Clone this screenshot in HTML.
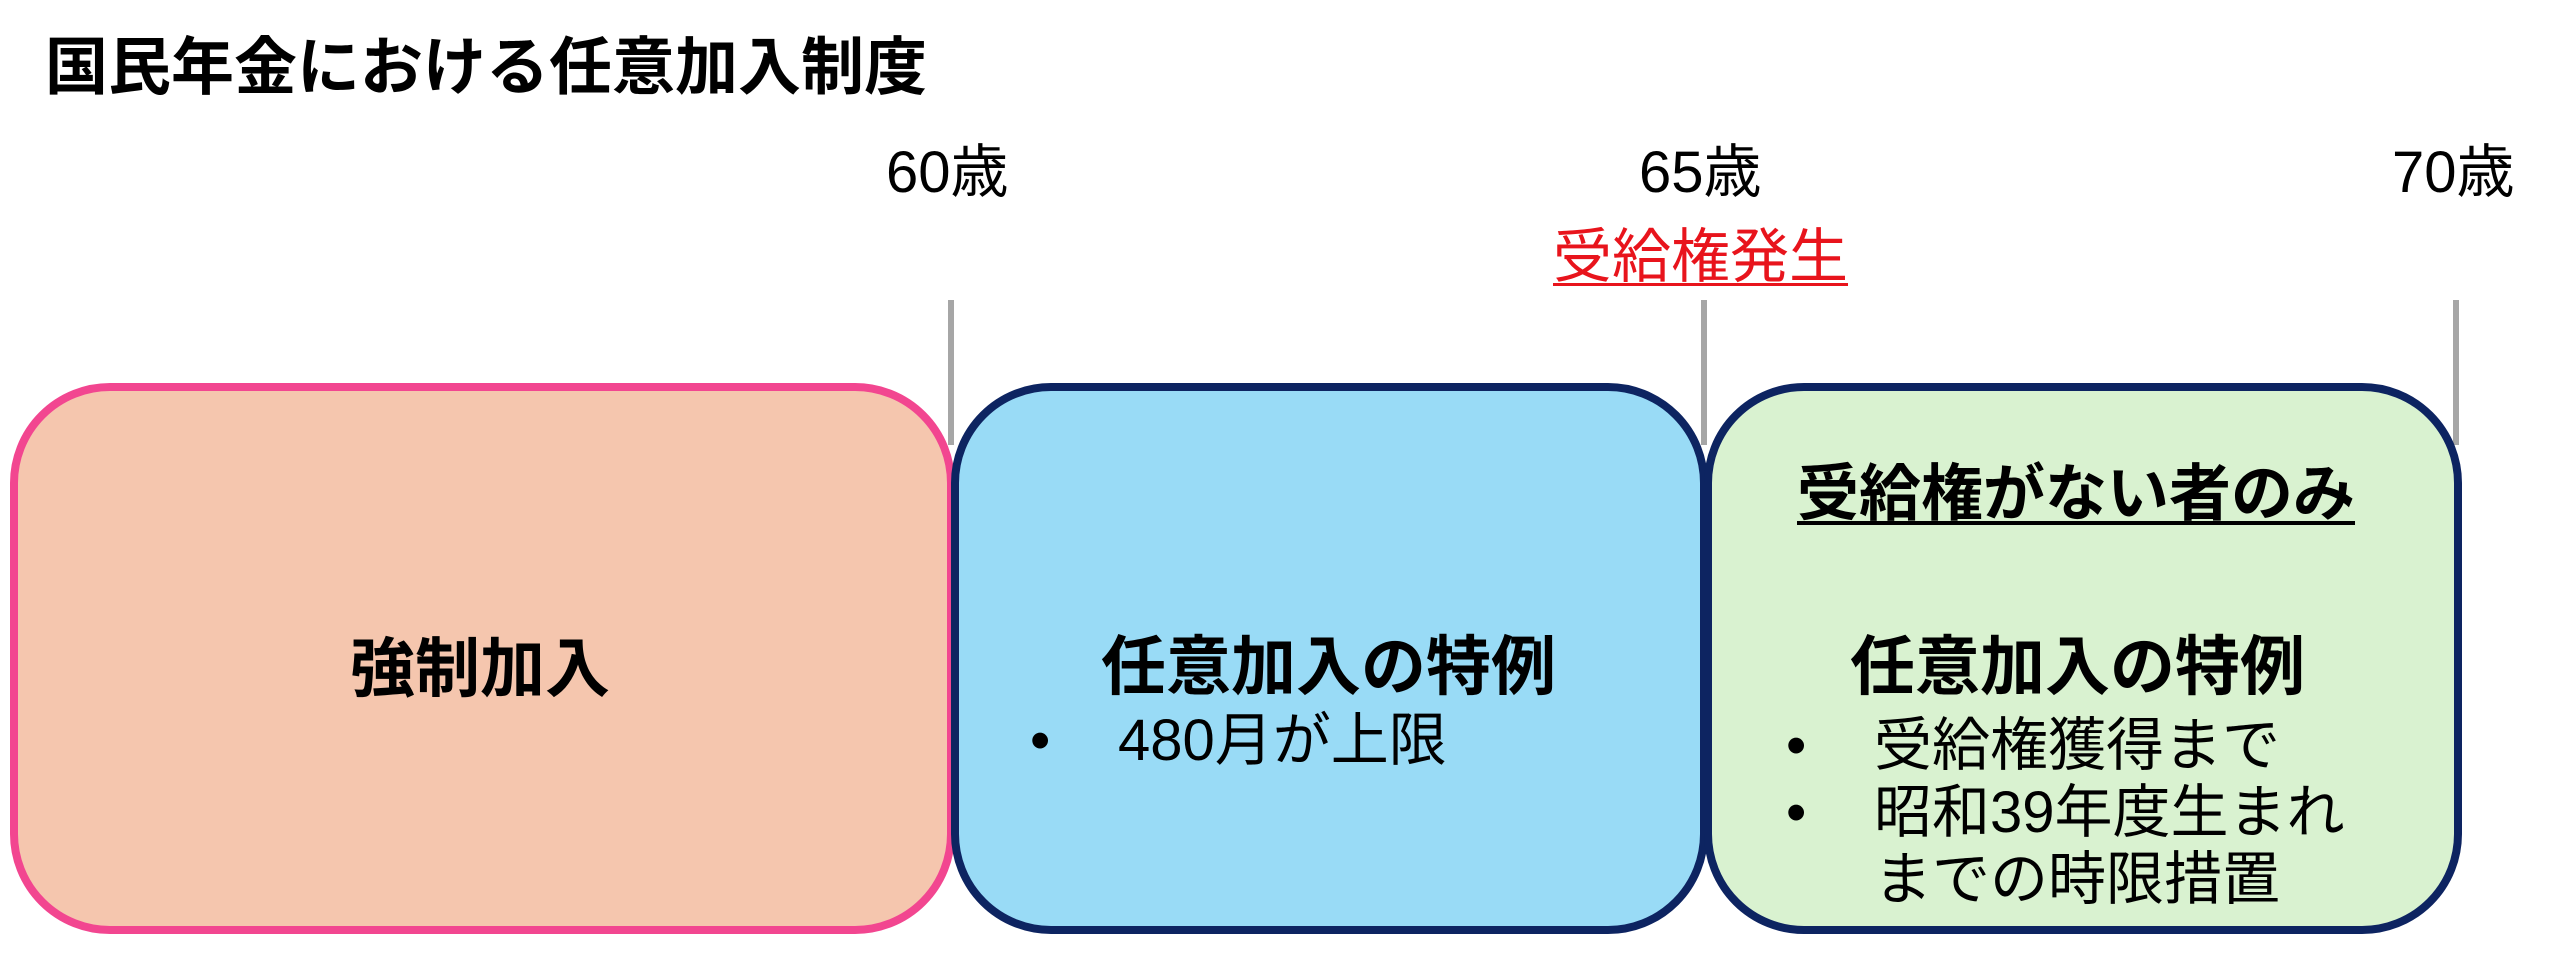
<!DOCTYPE html>
<html><head><meta charset="utf-8"><style>
html,body{margin:0;padding:0;background:#fff;}
body{width:2560px;height:953px;position:relative;overflow:hidden;font-family:"Liberation Sans","Noto Sans CJK JP",sans-serif;color:#000;}
.a{position:absolute;white-space:nowrap;line-height:1;}
.box{position:absolute;box-sizing:border-box;border-radius:100px;border:8px solid;}
.tick{position:absolute;width:6px;background:#a6a6a6;top:300px;height:145px;}
.b{font-weight:bold;}
</style></head><body>
<div class="a b" style="left:45px;top:37px;font-size:63px;">国民年金における任意加入制度</div>

<div class="tick" style="left:948px"></div>
<div class="tick" style="left:1701px"></div>
<div class="tick" style="left:2453px"></div>

<div class="a" style="left:886px;top:144px;font-size:58px;">60歳</div>
<div class="a" style="left:1639px;top:144px;font-size:58px;">65歳</div>
<div class="a" style="left:2392px;top:144px;font-size:58px;">70歳</div>
<div class="a" style="left:1553px;top:228px;font-size:59px;color:#e8141c;text-decoration:underline;text-decoration-thickness:3px;text-underline-offset:6px;">受給権発生</div>

<div class="box" style="left:10px;top:383px;width:945px;height:551px;background:#f5c6ae;border-color:#f24690;"></div>
<div class="box" style="left:951px;top:383px;width:757px;height:551px;background:#99dbf6;border-color:#0d2461;"></div>
<div class="box" style="left:1704px;top:383px;width:758px;height:551px;background:#d9f2d0;border-color:#0d2461;"></div>

<div class="a b" style="left:350px;top:636px;font-size:65px;">強制加入</div>

<div class="a b" style="left:1101px;top:634px;font-size:65px;">任意加入の特例</div>
<div class="a" style="left:1030px;top:712px;font-size:58px;">•</div>
<div class="a" style="left:1118px;top:712px;font-size:58px;">480月が上限</div>

<div class="a b" style="left:1797px;top:464px;font-size:62px;text-decoration:underline;text-decoration-thickness:4px;text-underline-offset:6px;">受給権がない者のみ</div>
<div class="a b" style="left:1850px;top:634px;font-size:65px;">任意加入の特例</div>
<div class="a" style="left:1786px;top:717px;font-size:58px;">•</div>
<div class="a" style="left:1874px;top:717px;font-size:58px;">受給権獲得まで</div>
<div class="a" style="left:1786px;top:784px;font-size:58px;">•</div>
<div class="a" style="left:1874px;top:784px;font-size:58px;">昭和39年度生まれ</div>
<div class="a" style="left:1874px;top:851px;font-size:58px;">までの時限措置</div>
</body></html>
